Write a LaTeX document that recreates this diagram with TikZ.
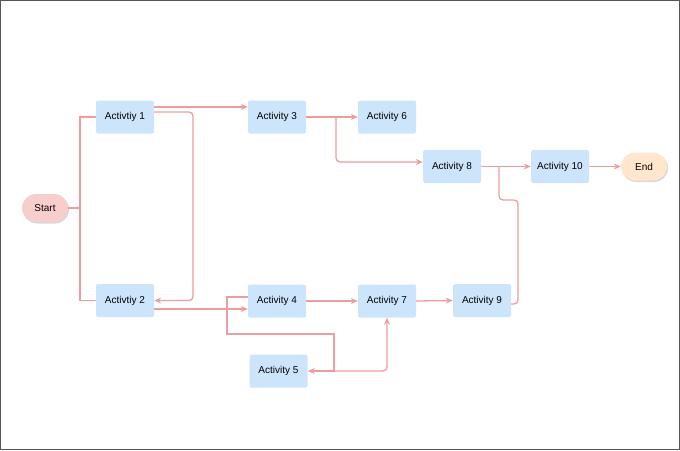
\documentclass[tikz,border=0pt]{standalone}
\usepackage{fontspec}
\setmainfont{Liberation Sans}
\usetikzlibrary{arrows.meta,shadows,shapes.misc}
\definecolor{boxfill}{HTML}{CCE5FB}
\definecolor{linec}{HTML}{EC9E9E}
\definecolor{startfill}{HTML}{F8CECC}
\definecolor{endfill}{HTML}{FFE6CC}
\definecolor{framec}{HTML}{555555}
\tikzset{
  act/.style={fill=boxfill, minimum width=58pt, minimum height=33pt, rounded corners=1.5pt, font=\fontsize{10}{12}\selectfont, inner sep=0pt},
  term/.style={rounded rectangle, minimum width=46pt, minimum height=28pt, font=\fontsize{10}{12}\selectfont, inner sep=0pt, drop shadow={shadow xshift=1pt, shadow yshift=-1.5pt, fill=black!25, opacity=0.6}},
  conn/.style={draw=linec, line width=1.3pt, rounded corners=4pt},
  arr/.style={conn, -{Stealth[length=7pt,width=6pt]}},
}
\begin{document}
\begin{tikzpicture}[x=1pt,y=-1pt]
\useasboundingbox (0,0) rectangle (680,450);
\draw[framec, line width=1.2pt] (0.6,0.6) rectangle (679.4,449.4);
\node[term, fill=startfill] (start) at (45,208) {Start};
\node[term, fill=endfill] (end) at (644,166.5) {End};
\node[act] (a1) at (125,117) {Activtiy 1};
\node[act] (a2) at (125,300.5) {Activtiy 2};
\node[act] (a3) at (277,117) {Activity 3};
\node[act] (a6) at (387,117) {Activity 6};
\node[act] (a8) at (452,166.5) {Activity 8};
\node[act] (a10) at (560,166.5) {Activity 10};
\node[act] (a4) at (277,301) {Activity 4};
\node[act] (a7) at (387,301) {Activity 7};
\node[act] (a9) at (482,300.5) {Activity 9};
\node[act] (a5) at (278.5,371) {Activity 5};
\coordinate (j1) at (336,117);
\coordinate (j5) at (334,371);
\coordinate (j8) at (499,166.5);
% start branches
\draw[conn, rounded corners=0pt] (start.east) -- (80,208) |- (a1.west);
\draw[conn, rounded corners=0pt] (80,208) |- (a2.west);
% activity 1
\draw[arr] (a1.east |- 0,107) -- (a3.west |- 0,107);
\draw[arr] (a1.east |- 0,112) -- (193,112) -- (193,300.5) -- (a2.east);
% activity 2
\draw[arr] (a2.east |- 0,309) -- (a4.west |- 0,309);
% activity 3
\draw[arr] (a3.east) -- (a6.west);
\draw[arr] (j1) -- (336,162) -- (a8.west |- 0,162);
% activity 4
\draw[arr] (a4.east) -- (a7.west);
\draw[arr, rounded corners=0pt] (a4.west |- 0,297) -- (227,297) -- (227,334) -- (334,334) -- (j5) -- (a5.east);
\draw[arr] (j5) -- (387,371) -- (a7.south);
% activity 7, 9
\draw[arr] (a7.east) -- (a9.west);
\draw[conn] (a9.east |- 0,304) -- (518,304) -- (518,200) -- (499,200) -- (j8);
% activity 8, 10
\draw[arr] (a8.east) -- (a10.west);
\draw[arr] (a10.east) -- (end.west);
\end{tikzpicture}
\end{document}
